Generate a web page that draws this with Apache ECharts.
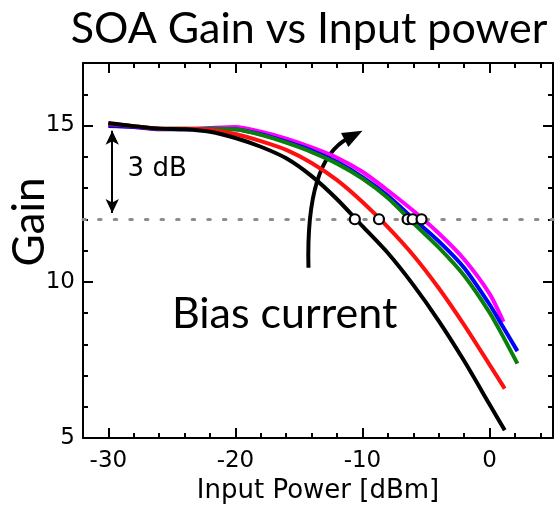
<!DOCTYPE html>
<html><head><meta charset="utf-8">
<script src="https://cdn.jsdelivr.net/npm/echarts@6/dist/echarts.min.js"></script>
<style>html,body{margin:0;padding:0;background:#fff}#c{width:556px;height:510px}</style>
</head><body><div id="c"></div>
<script>
// ---- data ----
const powerBase = [-30,-28,-26,-24,-22,-20,-18,-16,-14,-12,-10,-8,-6,-4,-2,0];
const powerBlack = powerBase.concat([1.2]);
const gainBlack  = [15.08,14.98,14.9,14.88,14.8,14.6,14.32,13.95,13.38,12.64,11.78,10.92,9.9,8.75,7.47,6.08,5.25];
const powerRed = powerBase.concat([1.2]);
const gainRed    = [15.05,14.98,14.9,14.9,14.86,14.73,14.5,14.22,13.8,13.25,12.55,11.75,10.85,9.8,8.62,7.35,6.58];
const powerGreen = powerBase.concat([1, 2.2]);
const gainGreen  = [15.05,14.98,14.9,14.9,14.9,14.88,14.7,14.45,14.15,13.78,13.3,12.68,11.88,11.1,10.2,9.02,8.3,7.38];
const powerBlue = powerBase.concat([1, 2.2]);
const gainBlue   = [14.98,14.95,14.88,14.88,14.9,14.88,14.72,14.48,14.2,13.83,13.35,12.75,12.02,11.3,10.45,9.28,8.6,7.78];
const powerMagenta = powerBase.concat([1.1]);
const gainMagenta = [15.0,14.95,14.9,14.88,14.92,14.95,14.8,14.58,14.3,13.97,13.52,12.92,12.27,11.55,10.72,9.62,8.72];
const crossPower = [-10.6,-8.7,-6.45,-6.05,-5.35];
const thresholdGain = 12;
const xMajorTicks = [-30,-20,-10,0];
const yMajorTicks = [5,10,15];

const chart = echarts.init(document.getElementById('c'));
const black = '#000';
const tickFont = 'DejaVu Sans';
const bigFont = 'Lato';

function lineSeries(name, xs, ys, color, extra) {
  return Object.assign({
    type: 'line', name, data: xs.map((x, i) => [x, ys[i]]),
    showSymbol: false, smooth: 0.25, silent: true,
    lineStyle: { color, width: 4 }, itemStyle: { color }
  }, extra || {});
}
function xAx(pos, minor, showLabel) {
  const o = {
    type: 'value', position: pos, min: -32, max: 5, splitLine: { show: false },
    axisLine: { show: minor, onZero: false, lineStyle: { color: black, width: 2 } },
    axisTick: { show: true, inside: true, length: minor ? 5 : 10, lineStyle: { color: black, width: 2 } },
    axisLabel: { show: false }
  };
  if (minor) o.interval = 2; else o.axisTick.customValues = xMajorTicks;
  if (showLabel) {
    o.axisLabel = { show: true, margin: 12, fontSize: 23, color: black, fontFamily: tickFont,
      formatter: v => (v % 10 === 0 ? String(v) : '') };
    o.name = 'Input Power [dBm]'; o.nameLocation = 'middle'; o.nameGap = 40;
    o.nameTextStyle = { fontSize: 26, color: black, fontFamily: tickFont };
  }
  return o;
}
function yAx(pos, minor, showLabel) {
  const o = {
    type: 'value', position: pos, min: 5, max: 17, splitLine: { show: false },
    axisLine: { show: minor, onZero: false, lineStyle: { color: black, width: 2 } },
    axisTick: { show: true, inside: true, length: minor ? 5 : 10, lineStyle: { color: black, width: 2 } },
    axisLabel: { show: false }
  };
  if (minor) o.interval = 1; else o.axisTick.customValues = yMajorTicks;
  if (showLabel) {
    o.axisLabel = { show: true, margin: 8, fontSize: 23, color: black, fontFamily: tickFont,
      formatter: v => (v % 5 === 0 ? String(v) : '') };
  }
  return o;
}

chart.setOption({
  animation: false,
  backgroundColor: '#fff',
  title: { text: 'SOA Gain vs Input power', left: 304, top: 3, textAlign: 'center',
    textStyle: { fontFamily: bigFont, fontWeight: 'normal', fontSize: 43, color: black } },
  grid: { left: 83, right: -1, top: 63, bottom: 72 },
  xAxis: [xAx('bottom', true, true), xAx('bottom', false, false), xAx('top', true, false), xAx('top', false, false)],
  yAxis: [yAx('left', true, true), yAx('left', false, false), yAx('right', true, false), yAx('right', false, false)],
  series: [
    lineSeries('magenta', powerMagenta, gainMagenta, '#ff00ff', {
      markLine: { silent: true, symbol: 'none', label: { show: false },
        lineStyle: { color: '#8c8c8c', width: 3, type: [2.5, 13.1], cap: 'round' },
        data: [{ yAxis: thresholdGain }] }
    }),
    lineSeries('blue', powerBlue, gainBlue, '#0000ff'),
    lineSeries('green', powerGreen, gainGreen, '#0a800a'),
    lineSeries('red', powerRed, gainRed, '#ff1010'),
    lineSeries('black', powerBlack, gainBlack, '#000000', {
      markLine: { silent: true, symbol: ['arrow', 'arrow'], symbolSize: [10, 14], label: { show: false },
        lineStyle: { color: black, width: 2, type: 'solid' },
        data: [[{ coord: [-29.7, 14.83] }, { coord: [-29.7, 12.2] }]] }
    }),
    { type: 'scatter', silent: true, symbol: 'circle', symbolSize: 10, z: 5,
      itemStyle: { color: '#fff', borderColor: black, borderWidth: 2.2, opacity: 1 },
      data: crossPower.map(p => [p, thresholdGain]) }
  ]
});

// annotations anchored in data coordinates
const P = c => chart.convertToPixel({ gridIndex: 0 }, c);
const s = P([-14.25, 10.45]), cp = P([-14.47, 13.89]), tip = P([-10.0, 14.83]);
const dx = tip[0] - cp[0], dy = tip[1] - cp[1], L = Math.hypot(dx, dy);
const ux = dx / L, uy = dy / L, hl = 20, hw = 8;
const base = [tip[0] - ux * hl, tip[1] - uy * hl];
const lbl3 = P([-28.49, 13.59]);
const bias = P([-25.0, 8.95]);
chart.setOption({
  graphic: [
    { type: 'bezierCurve', silent: true,
      shape: { x1: s[0], y1: s[1], cpx1: cp[0], cpy1: cp[1], x2: base[0] + ux * 4, y2: base[1] + uy * 4 },
      style: { stroke: black, lineWidth: 4, fill: null } },
    { type: 'polygon', silent: true,
      shape: { points: [tip, [base[0] - uy * hw, base[1] + ux * hw], [base[0] + uy * hw, base[1] - ux * hw]] },
      style: { fill: black } },
    { type: 'text', silent: true, x: lbl3[0], y: lbl3[1],
      style: { text: '3 dB', fontSize: 26, fontFamily: tickFont, fill: black, align: 'left', verticalAlign: 'middle' } },
    { type: 'text', silent: true, x: bias[0], y: bias[1],
      style: { text: 'Bias current', fontSize: 43, fontFamily: bigFont, fill: black, align: 'left', verticalAlign: 'middle' } },
    { type: 'text', silent: true, x: 30, y: 222, rotation: Math.PI / 2,
      style: { text: 'Gain', fontSize: 44, fontFamily: bigFont, fill: black, align: 'center', verticalAlign: 'middle' } }
  ]
});
</script></body></html>
